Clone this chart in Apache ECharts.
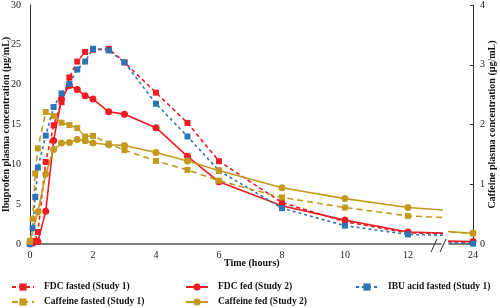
<!DOCTYPE html>
<html>
<head>
<meta charset="utf-8">
<script src="https://cdn.jsdelivr.net/npm/echarts@6/dist/echarts.min.js"></script>
<style>
  html, body { margin: 0; padding: 0; background: #fff; }
  #chart { width: 500px; height: 308px; }
</style>
</head>
<body>
<div id="chart"></div>
<script>
// sampling times (hours)
var timeStudy1 = [0, 0.083, 0.167, 0.25, 0.5, 0.75, 1, 1.25, 1.5, 1.75, 2, 2.5, 3, 4, 5, 6, 8, 10, 12, 24];
var timeStudy2 = [0, 0.25, 0.5, 0.75, 1, 1.25, 1.5, 1.75, 2, 2.5, 3, 4, 5, 6, 8, 10, 12, 24];

// ibuprofen (µg/mL, left axis)
var fdcFasted = [0, 0.1, 0.4, 1.5, 10.3, 14.9, 17.8, 20.9, 22.9, 24.1, 24.4, 24.5, 22.8, 19.0, 15.2, 10.4, 5.2, 2.8, 1.4, 0.2];
var ibuFasted = [0, 2.0, 5.9, 9.6, 13.6, 17.2, 18.9, 20.1, 21.9, 22.9, 24.5, 24.3, 22.8, 17.6, 13.5, 9.2, 4.5, 2.3, 1.2, 0.05];
var fdcFed = [0, 0.3, 4.1, 13.0, 18.2, 19.9, 19.4, 18.6, 18.2, 16.6, 16.3, 14.6, 11.0, 7.8, 4.8, 3.0, 1.5, 0.3];

// caffeine (µg/mL, right axis)
var cafFasted = [0.05, 0.42, 1.18, 1.6, 2.21, 2.14, 2.03, 1.99, 1.94, 1.80, 1.81, 1.68, 1.57, 1.39, 1.24, 1.06, 0.78, 0.61, 0.47, 0.18];
var cafFed = [0.04, 0.54, 1.17, 1.58, 1.69, 1.70, 1.75, 1.73, 1.69, 1.66, 1.65, 1.53, 1.39, 1.23, 0.94, 0.76, 0.61, 0.18];

var xTicks = [0, 2, 4, 6, 8, 10, 12, 24];

var RED = '#EE1C25', BLUE = '#2E75B6', GOLD = '#C49A1E';
var FONT = 'Liberation Serif';

function pairs(t, v) {
    return t.map(function (x, i) { return [x, v[i]]; });
}

var defs = [
    { name: 'FDC fasted (Study 1)', t: timeStudy1, v: fdcFasted, color: RED, sym: 'rect', dash: [4, 3], right: false, lx: 11, ly: 282 },
    { name: 'FDC fed (Study 2)', t: timeStudy2, v: fdcFed, color: RED, sym: 'circle', dash: 'solid', right: false, lx: 185, ly: 282 },
    { name: 'IBU acid fasted (Study 1)', t: timeStudy1, v: ibuFasted, color: BLUE, sym: 'rect', dash: [3, 3], right: false, lx: 355, ly: 282 },
    { name: 'Caffeine fasted (Study 1)', t: timeStudy1, v: cafFasted, color: GOLD, sym: 'rect', dash: [6, 4], right: true, lx: 11, ly: 297 },
    { name: 'Caffeine fed (Study 2)', t: timeStudy2, v: cafFed, color: GOLD, sym: 'circle', dash: 'solid', right: true, lx: 185, ly: 297 }
];

var series = [];
// grid 0: 0..13 h, grid 1: the piece around 24 h (broken axis)
[0, 1].forEach(function (g) {
    defs.forEach(function (d) {
        series.push({
            name: d.name,
            type: 'line',
            xAxisIndex: g,
            yAxisIndex: g === 0 ? (d.right ? 1 : 0) : (d.right ? 2 : 3),
            data: pairs(d.t, d.v),
            clip: true,
            symbol: d.sym,
            symbolSize: d.sym === 'rect' ? 6 : 7,
            color: d.color,
            itemStyle: { color: d.color },
            lineStyle: { color: d.color, width: 1.6, type: d.dash },
            animation: false
        });
    });
});

var labelStyle = { fontFamily: FONT, fontSize: 10, color: '#222' };
var nameStyle = { fontFamily: FONT, fontSize: 10, fontWeight: 'bold', color: '#111' };
var legendText = { fontFamily: FONT, fontSize: 9.5, fontWeight: 'bold', color: '#111', padding: [0, 0, 0, 5] };

var legends = defs.map(function (d) {
    return { left: d.lx, top: d.ly, itemWidth: 22, itemHeight: 9, padding: 0, textStyle: legendText, data: [d.name] };
});

var option = {
    backgroundColor: '#fff',
    animation: false,
    grid: [
        { left: 30, top: 5, width: 411, height: 239, outerBoundsMode: 'none', containLabel: false },
        { left: 449, top: 5, width: 24, height: 239, outerBoundsMode: 'none', containLabel: false }
    ],
    xAxis: [
        {
            gridIndex: 0, type: 'value', min: 0, max: 13.05, interval: 2,
            axisLine: { lineStyle: { color: '#555', width: 1.5 } },
            axisTick: { show: false },
            splitLine: { show: false },
            axisLabel: Object.assign({ margin: 6, formatter: function (v) { return xTicks.indexOf(v) >= 0 ? String(v) : ''; } }, labelStyle)
        },
        {
            gridIndex: 1, type: 'value', min: 23.24, max: 24,
            axisLine: { lineStyle: { color: '#555', width: 1.5 } },
            axisTick: { show: false },
            splitLine: { show: false },
            axisLabel: Object.assign({ margin: 6, showMaxLabel: true, formatter: function (v) { return Math.abs(v - 24) < 1e-6 ? '24' : ''; } }, labelStyle)
        }
    ],
    yAxis: [
        {
            gridIndex: 0, type: 'value', position: 'left', min: 0, max: 30, interval: 5,
            name: 'Ibuprofen plasma concentration (µg/mL)', nameLocation: 'middle', nameGap: 18.5, nameMoveOverlap: false,
            nameTextStyle: nameStyle,
            axisLine: { show: true, lineStyle: { color: '#333', width: 1 } },
            axisTick: { show: false },
            splitLine: { show: false },
            axisLabel: Object.assign({ margin: 9, hideOverlap: false }, labelStyle)
        },
        { gridIndex: 0, type: 'value', position: 'right', min: 0, max: 4, show: false },
        {
            gridIndex: 1, type: 'value', position: 'right', min: 0, max: 4, interval: 1,
            name: 'Caffeine plasma concentration (µg/mL)', nameLocation: 'middle', nameGap: 14, nameRotate: 90, nameMoveOverlap: false,
            nameTextStyle: nameStyle,
            axisLine: { show: true, lineStyle: { color: '#333', width: 1 } },
            axisTick: { show: true, inside: true, length: 3, lineStyle: { color: '#333' } },
            splitLine: { show: false },
            axisLabel: Object.assign({ margin: 7 }, labelStyle)
        },
        { gridIndex: 1, type: 'value', position: 'left', min: 0, max: 30, show: false }
    ],
    legend: legends,
    graphic: [
        { type: 'text', left: 224, top: 258, style: { text: 'Time (hours)', font: 'bold 10px "Liberation Serif"', fill: '#111' } },
        // axis break marks
        { type: 'line', shape: { x1: 431, y1: 252, x2: 437, y2: 239 }, style: { stroke: '#222', lineWidth: 1 } },
        { type: 'line', shape: { x1: 440, y1: 252, x2: 446, y2: 239 }, style: { stroke: '#222', lineWidth: 1 } }
    ],
    series: series
};

var chart = echarts.init(document.getElementById('chart'), null, { renderer: 'canvas' });
chart.setOption(option);
</script>
</body>
</html>
